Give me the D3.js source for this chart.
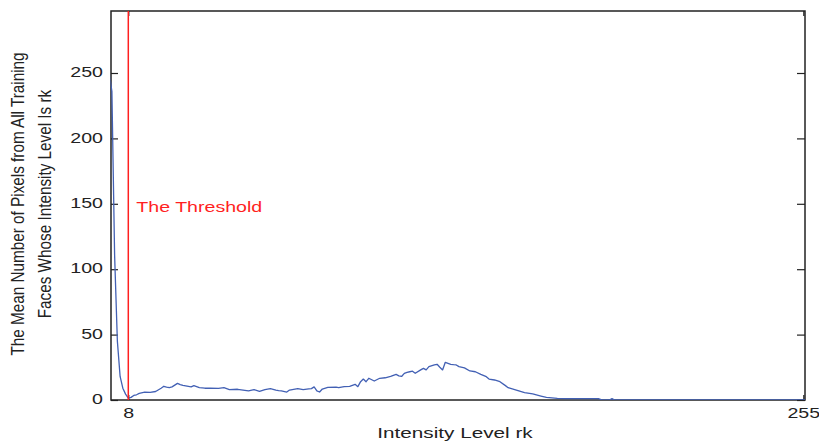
<!DOCTYPE html>
<html>
<head>
<meta charset="utf-8">
<script src="https://cdn.jsdelivr.net/npm/d3@7/dist/d3.min.js"></script>
<style>
  html, body { margin: 0; padding: 0; background: #fff; }
  svg { display: block; font-family: "Liberation Sans", Arial, sans-serif; }
</style>
</head>
<body>
<svg id="chart" width="819" height="443"></svg>
<script>
// Mean histogram of intensity levels over the training faces
const levels = [1, 2, 3, 4, 5, 6, 7, 8, 9, 10, 11, 12, 14, 16, 18, 20, 21, 22, 23, 24, 26, 27, 28, 29, 31, 32, 34, 36, 38, 41, 43,
  45, 48, 50, 52, 54, 56, 58, 60, 62, 63, 64, 66, 67, 70, 72, 74, 75, 76, 77, 78, 79, 81, 84, 85, 87, 89,
  91, 92, 93, 94, 95, 96, 98, 100, 102, 104, 106, 107, 108, 109, 110, 111, 112, 113, 115, 116, 117, 118,
  120, 121, 122, 123, 124, 126, 127, 128, 129, 131, 133, 135, 137, 139, 140, 142, 144, 146, 147, 150,
  153, 156, 159, 161, 165, 168, 180, 181, 184, 185, 186, 200, 230, 256];
const counts = [250, 236, 110, 45, 18, 9, 4.5, 1.5, 2, 3.5, 4, 5, 6, 5.8, 6.5, 9, 10.5, 9.8, 9.5, 10, 12.7, 11.8, 11.2, 10.8, 10, 11, 9.5, 9, 9, 8.9, 9.5,
  8, 8.2, 7.6, 7, 8, 6.6, 8, 8.7, 7.6, 7.2, 7, 6.1, 7.6, 8.7, 8, 8.5, 8.7, 10, 7, 6.1, 8.4, 9.7, 9.9, 9.4, 10.2, 10.4,
  12, 10.2, 14, 16, 14, 16.6, 14.5, 16.6, 17, 18, 19.6, 18.5, 18, 20.4, 21.2, 21.6, 22, 20.4, 23, 24.2, 23, 25.5,
  26.8, 27.3, 25, 23, 28.8, 27.3, 27, 26.8, 25.5, 24.6, 22.2, 21.6, 19.6, 17.8, 16, 15.3, 14, 11, 9.4, 7.6,
  5.6, 4.6, 3, 2, 1.3, 1, 1, 0.3, 0, 1, 0, 0, 0, 0];

const yTicks = [0, 50, 100, 150, 200, 250];
const xTicks = [8, 255];
const threshold = 8;
const thresholdLabel = "The Threshold";
const xTitle = "Intensity Level rk";
const yTitle = ["The Mean Number of Pixels from All Training", "Faces Whose Intensity Level Is rk"];

const svg = d3.select("#chart");
const frame = { left: 111, right: 805, top: 11, bottom: 400 };
const stretch = 1.4;   // glyphs are drawn wide
const axisColor = "#222";

const x = d3.scaleLinear().domain([8, 255]).range([128.3, 803.3]);
const y = d3.scaleLinear().domain([0, 250]).range([frame.bottom, 73]);

svg.append("defs").append("clipPath").attr("id", "plotClip")
  .append("rect")
  .attr("x", frame.left - 0.5).attr("y", frame.top)
  .attr("width", frame.right - frame.left + 0.5).attr("height", frame.bottom - frame.top);

// box frame
svg.append("rect")
  .attr("x", frame.left).attr("y", frame.top)
  .attr("width", frame.right - frame.left).attr("height", frame.bottom - frame.top)
  .attr("fill", "none").attr("stroke", axisColor).attr("stroke-width", 1.5);

// y ticks (inward on both sides) and labels
const gy = svg.append("g").attr("transform", `translate(${frame.left},0)`)
  .call(d3.axisLeft(y).tickValues(yTicks).tickSize(-7).tickPadding(0).tickFormat(d3.format("d")));
gy.select(".domain").remove();
gy.selectAll(".tick line").attr("stroke", axisColor).attr("stroke-width", 1.2);
gy.selectAll(".tick text")
  .attr("x", null).attr("dy", null)
  .attr("fill", "#222").attr("font-size", 14)
  .attr("font-family", "Liberation Sans, Arial, sans-serif")
  .attr("text-anchor", "end").attr("dominant-baseline", "middle")
  .attr("transform", `translate(-8,0) scale(${stretch},1)`);

const gyR = svg.append("g").attr("transform", `translate(${frame.right},0)`)
  .call(d3.axisRight(y).tickValues(yTicks).tickSize(-8).tickFormat(""));
gyR.select(".domain").remove();
gyR.selectAll(".tick line").attr("stroke", axisColor).attr("stroke-width", 1.2);

// x ticks (inward on bottom and top) and labels
const gx = svg.append("g").attr("transform", `translate(0,${frame.bottom})`)
  .call(d3.axisBottom(x).tickValues(xTicks).tickSize(-5).tickPadding(0).tickFormat(d3.format("d")));
gx.select(".domain").remove();
gx.selectAll(".tick line").attr("stroke", axisColor).attr("stroke-width", 1.2);
gx.selectAll(".tick text")
  .attr("y", null).attr("dy", null)
  .attr("fill", "#222").attr("font-size", 14)
  .attr("font-family", "Liberation Sans, Arial, sans-serif")
  .attr("text-anchor", "middle")
  .attr("transform", `translate(0,18) scale(${stretch},1)`);

const gxT = svg.append("g").attr("transform", `translate(0,${frame.top})`)
  .call(d3.axisTop(x).tickValues(xTicks).tickSize(-5).tickFormat(""));
gxT.select(".domain").remove();
gxT.selectAll(".tick line").attr("stroke", axisColor).attr("stroke-width", 1.2);

// histogram curve, drawn over the frame
const line = d3.line().x((d, i) => x(levels[i])).y(d => y(d));
svg.append("path")
  .datum(counts)
  .attr("clip-path", "url(#plotClip)")
  .attr("fill", "none")
  .attr("stroke", "#4260b4")
  .attr("stroke-width", 1.3)
  .attr("stroke-linejoin", "round")
  .attr("d", line);

// threshold marker
svg.append("line")
  .attr("x1", x(threshold)).attr("x2", x(threshold))
  .attr("y1", frame.top).attr("y2", frame.bottom)
  .attr("stroke", "#ff1f1f").attr("stroke-width", 1.5);

svg.append("text")
  .attr("transform", `translate(${x(threshold) + 8},212) scale(${stretch},1)`)
  .attr("fill", "#ff1f1f")
  .attr("font-size", 14)
  .text(thresholdLabel);

// axis titles
svg.append("text")
  .attr("transform", `translate(455,438) scale(${stretch},1)`)
  .attr("text-anchor", "middle").attr("font-size", 14.8).attr("fill", "#222")
  .text(xTitle);

yTitle.forEach((t, i) => {
  svg.append("text")
    .attr("transform", `translate(${24 + i * 26.5},204) rotate(-90) scale(1,1.15)`)
    .attr("text-anchor", "middle").attr("font-size", 15.3).attr("fill", "#222")
    .text(t);
});
</script>
</body>
</html>
